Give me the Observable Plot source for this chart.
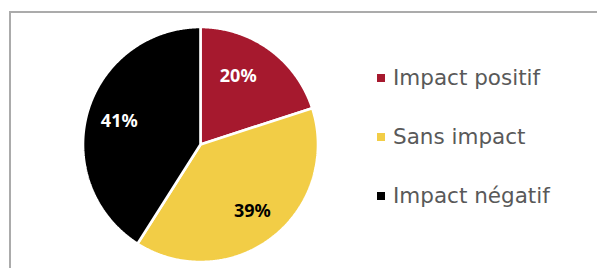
<!DOCTYPE html>
<html>
<head>
<meta charset="utf-8">
<script src="https://cdn.jsdelivr.net/npm/d3@7"></script>
<script src="https://cdn.jsdelivr.net/npm/@observablehq/plot@0.6"></script>
<style>
  html, body { margin: 0; padding: 0; background: #fff; overflow: hidden; width: 597px; height: 268px; }
  #frame { position: absolute; left: 9px; top: 11px; width: 800px; height: 400px; border: 2px solid #ababab; box-sizing: border-box; }
  #wrap { position: absolute; left: 0; top: 0; width: 597px; height: 268px; }
  .row { position: absolute; left: 377px; height: 20px; display: flex; align-items: center; font-family: "DejaVu Sans", sans-serif; font-size: 21.5px; line-height: 20px; color: #595959; white-space: nowrap; }
  .sw { width: 8px; height: 8px; margin-right: 8px; }
</style>
</head>
<body>
<div id="frame"></div>
<div id="wrap"></div>
<script>
// ---- data ----
const categories = ["Impact positif", "Sans impact", "Impact négatif"];
const values = [20, 39, 41];
const labels = ["20%", "39%", "41%"];
const colors = ["#A6192E", "#F2CD46", "#000000"];
const labelColors = ["#ffffff", "#000000", "#ffffff"];

// ---- layout ----
const W = 597, H = 268;
const cx = 200, cy = 144, R = 117.5;
const labelR = 0.72;
const legendCenters = [77.5, 137, 195.5];

const pie = d3.pie().sort(null).startAngle(0).endAngle(2 * Math.PI)(values);

// polygon outline of each slice (center, arc, center)
const slicePts = [];
pie.forEach((p, i) => {
  const cat = categories[i];
  slicePts.push({cat, x: 0, y: 0});
  const n = Math.max(2, Math.ceil((p.endAngle - p.startAngle) / (Math.PI / 360)));
  for (let k = 0; k <= n; k++) {
    const a = p.startAngle + (p.endAngle - p.startAngle) * k / n;
    slicePts.push({cat, x: Math.sin(a), y: Math.cos(a)});
  }
  slicePts.push({cat, x: 0, y: 0});
});

const labelData = pie.map((p, i) => {
  const a = (p.startAngle + p.endAngle) / 2;
  return {cat: categories[i], text: labels[i], color: labelColors[i], x: labelR * Math.sin(a), y: labelR * Math.cos(a)};
});

const textOpts = {x: "x", y: "y", text: "text", fontSize: 18, fontWeight: "bold", fontFamily: "Noto Sans"};

const chart = Plot.plot({
  width: W,
  height: H,
  margin: 0,
  style: {background: "transparent", overflow: "visible"},
  x: {domain: [-1, 1], range: [cx - R, cx + R], axis: null},
  y: {domain: [-1, 1], range: [cy + R, cy - R], axis: null},
  color: {domain: categories, range: colors},
  marks: [
    Plot.line(slicePts, {x: "x", y: "y", z: "cat", fill: "cat", stroke: "white", strokeWidth: 2.6, strokeLinejoin: "miter"}),
    // first slice label sits a little closer to the slice edge, as in the original
    Plot.text(labelData.filter((d, i) => i === 0), {...textOpts, fill: "#ffffff", dx: -12}),
    Plot.text(labelData.filter((d, i) => i > 0 && d.color === "#ffffff"), {...textOpts, fill: "#ffffff"}),
    Plot.text(labelData.filter(d => d.color !== "#ffffff"), {...textOpts, fill: "#000000"})
  ]
});

const wrap = document.getElementById("wrap");
wrap.appendChild(chart);

const colorScale = chart.scale("color");
categories.forEach((c, i) => {
  const row = document.createElement("div");
  row.className = "row";
  row.style.top = (legendCenters[i] - 10) + "px";
  const sw = document.createElement("span");
  sw.className = "sw";
  sw.style.background = colorScale.apply(c);
  const t = document.createElement("span");
  t.textContent = c;
  row.appendChild(sw);
  row.appendChild(t);
  wrap.appendChild(row);
});
</script>
</body>
</html>
